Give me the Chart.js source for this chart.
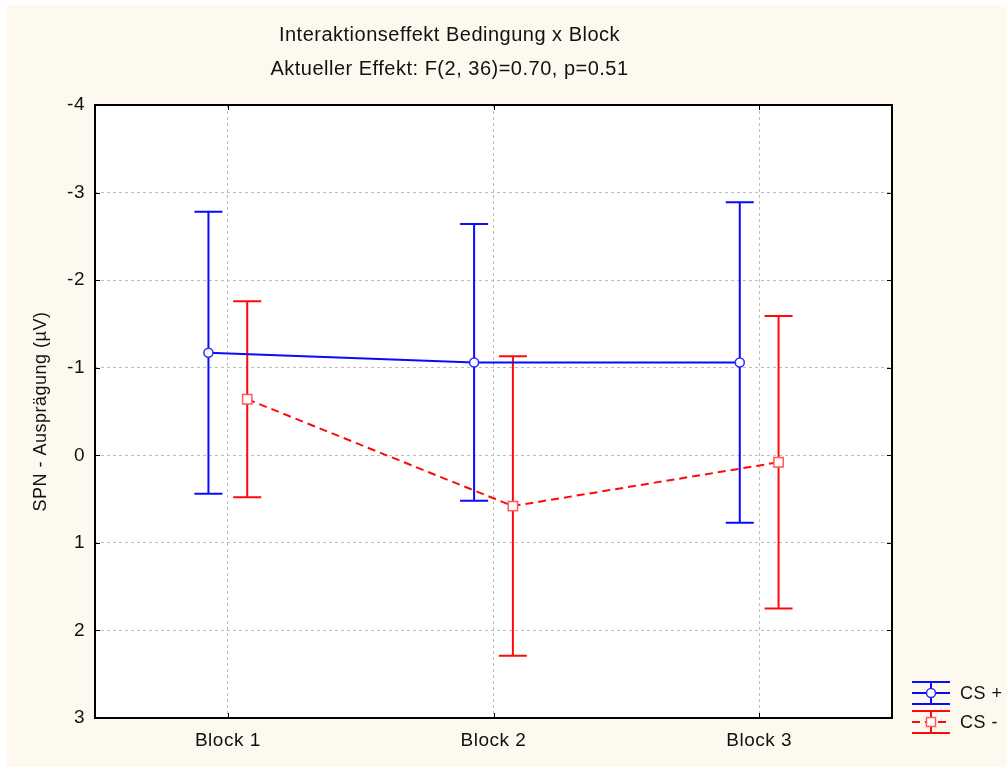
<!DOCTYPE html>
<html><head><meta charset="utf-8">
<script src="https://cdn.jsdelivr.net/npm/chart.js@4"></script>
<style>
html,body{margin:0;padding:0;background:#ffffff;}
#wrap{position:absolute;left:7px;top:5px;width:1000px;height:762px;background:#fdf9ef;}
</style></head><body><div id="wrap"><canvas id="c" width="1000" height="762"></canvas></div>
<script>
const categories = ['Block 1', 'Block 2', 'Block 3'];
const csPlusMean = [-1.17, -1.06, -1.06];
const csPlusErr = [1.61, 1.58, 1.83];
const csMinusMean = [-0.64, 0.58, 0.08];
const csMinusErr = [1.12, 1.71, 1.67];
const yTickValues = [-4, -3, -2, -1, 0, 1, 2, 3];
const titleLines = ['Interaktionseffekt Bedingung x Block', 'Aktueller Effekt: F(2, 36)=0.70, p=0.51'];
const yAxisTitle = 'SPN - Ausprägung (µV)';
const seriesLabels = ['CS +', 'CS -'];

const FONT = "'Liberation Sans', Arial, Helvetica, sans-serif";
const BLUE = '#0a0aff';
const RED = '#ff0a0a';
const OFFSET = 0.073;
const LS = '0.5px';

function pts(means, off) { return means.map((m, i) => ({ x: i + off, y: m })); }

const spacing = {
  id: 'spacing',
  beforeInit(chart) { try { chart.ctx.letterSpacing = LS; } catch (e) {} },
  beforeUpdate(chart) { try { chart.ctx.letterSpacing = LS; } catch (e) {} },
  beforeDraw(chart) { try { chart.ctx.letterSpacing = LS; } catch (e) {} }
};

const errorBars = {
  id: 'errorBars',
  beforeDatasetsDraw(chart) {
    const ctx = chart.ctx, xs = chart.scales.x, ys = chart.scales.y;
    chart.data.datasets.forEach(ds => {
      ctx.save();
      ctx.strokeStyle = ds.errColor;
      ctx.lineWidth = 2;
      ds.data.forEach((p, i) => {
        const x = xs.getPixelForValue(p.x);
        const y1 = ys.getPixelForValue(p.y - ds.err[i]);
        const y2 = ys.getPixelForValue(p.y + ds.err[i]);
        ctx.beginPath();
        ctx.moveTo(x, y1); ctx.lineTo(x, y2);
        ctx.moveTo(x - 14, y1); ctx.lineTo(x + 14, y1);
        ctx.moveTo(x - 14, y2); ctx.lineTo(x + 14, y2);
        ctx.stroke();
      });
      ctx.restore();
    });
  }
};

const frame = {
  id: 'frame',
  beforeDraw(chart) {
    const a = chart.chartArea, ctx = chart.ctx;
    ctx.save();
    ctx.fillStyle = '#ffffff';
    ctx.fillRect(a.left, a.top, a.right - a.left, a.bottom - a.top);
    ctx.restore();
  },
  afterDraw(chart) {
    const a = chart.chartArea, ctx = chart.ctx, xs = chart.scales.x, ys = chart.scales.y;
    ctx.save();
    ctx.strokeStyle = '#000';
    ctx.lineWidth = 1;
    ctx.beginPath();
    ys.ticks.forEach(t => {
      const y = Math.round(ys.getPixelForValue(t.value)) + 0.5;
      ctx.moveTo(a.left, y); ctx.lineTo(a.left + 5, y);
      ctx.moveTo(a.right, y); ctx.lineTo(a.right - 5, y);
    });
    xs.ticks.forEach(t => {
      const x = Math.round(xs.getPixelForValue(t.value)) + 0.5;
      ctx.moveTo(x, a.bottom); ctx.lineTo(x, a.bottom - 5);
      ctx.moveTo(x, a.top); ctx.lineTo(x, a.top + 5);
    });
    ctx.stroke();
    ctx.lineWidth = 2;
    ctx.strokeRect(a.left, a.top, a.right - a.left, a.bottom - a.top);
    ctx.restore();
  }
};

const customLegend = {
  id: 'customLegend',
  afterDraw(chart) {
    const ctx = chart.ctx;
    const x0 = 905, rowY = [688, 717];
    chart.data.datasets.forEach((ds, k) => {
      const cy = rowY[k];
      ctx.save();
      ctx.strokeStyle = ds.errColor;
      ctx.lineWidth = 2;
      ctx.beginPath();
      ctx.moveTo(x0, cy - 11); ctx.lineTo(x0 + 38, cy - 11);
      ctx.moveTo(x0, cy + 11); ctx.lineTo(x0 + 38, cy + 11);
      ctx.moveTo(x0 + 19, cy - 11); ctx.lineTo(x0 + 19, cy + 11);
      ctx.stroke();
      if (ds.borderDash && ds.borderDash.length) ctx.setLineDash(ds.borderDash);
      ctx.beginPath();
      ctx.moveTo(x0, cy); ctx.lineTo(x0 + 38, cy);
      ctx.stroke();
      ctx.setLineDash([]);
      ctx.fillStyle = '#fff';
      ctx.strokeStyle = ds.pointBorderColor;
      ctx.lineWidth = 1.5;
      ctx.beginPath();
      if (ds.pointStyle === 'rect') { ctx.rect(x0 + 19 - 4.5, cy - 4.5, 9, 9); }
      else { ctx.arc(x0 + 19, cy, 4.5, 0, Math.PI * 2); }
      ctx.fill(); ctx.stroke();
      ctx.fillStyle = '#111';
      ctx.font = '18px ' + FONT;
      ctx.textBaseline = 'middle';
      ctx.fillText(ds.label, x0 + 48, cy + 1);
      ctx.restore();
    });
  }
};

new Chart(document.getElementById('c'), {
  type: 'line',
  plugins: [spacing, frame, errorBars, customLegend],
  data: {
    datasets: [
      { label: seriesLabels[0], data: pts(csPlusMean, -OFFSET), err: csPlusErr, errColor: BLUE,
        borderColor: BLUE, borderWidth: 2, pointStyle: 'circle', pointRadius: 4.5,
        pointBackgroundColor: '#fff', pointBorderColor: '#2a2aff', pointBorderWidth: 1.5, tension: 0 },
      { label: seriesLabels[1], data: pts(csMinusMean, OFFSET), err: csMinusErr, errColor: RED,
        borderColor: RED, borderWidth: 2, borderDash: [8, 5], pointStyle: 'rect', pointRadius: 6.6,
        pointBackgroundColor: '#fff', pointBorderColor: '#ff5a5a', pointBorderWidth: 1.5, tension: 0 }
    ]
  },
  options: {
    responsive: false,
    animation: false,
    devicePixelRatio: 1,
    layout: { padding: { left: 0, right: 115, top: 0, bottom: 0 } },
    plugins: {
      legend: { display: false },
      tooltip: { enabled: false },
      title: {
        display: true, text: titleLines, color: '#111',
        font: { family: FONT, size: 20, weight: 'normal', lineHeight: 1.7 },
        padding: { top: 13, bottom: 19 }
      }
    },
    scales: {
      x: {
        type: 'linear', min: -0.5, max: 2.5,
        afterBuildTicks: s => { s.ticks = categories.map((c, i) => ({ value: i })); },
        afterFit: s => { s.height = 49; },
        ticks: { callback: v => categories[v], color: '#111', padding: 11, maxRotation: 0,
                 font: { family: FONT, size: 19 } },
        grid: { color: '#bdbdbd', lineWidth: 1, drawTicks: false },
        border: { display: false, dash: [3, 3] }
      },
      y: {
        reverse: true, min: -4, max: 3,
        afterBuildTicks: s => { s.ticks = yTickValues.map(v => ({ value: v })); },
        afterFit: s => { s.width = 88; },
        ticks: { color: '#111', padding: 10, font: { family: FONT, size: 19 } },
        grid: { color: '#bdbdbd', lineWidth: 1, drawTicks: false },
        border: { display: false, dash: [3, 3] },
        title: { display: true, text: yAxisTitle, color: '#111',
                 font: { family: FONT, size: 18 }, padding: { top: 23, bottom: 0 } }
      }
    }
  }
});
</script></body></html>
